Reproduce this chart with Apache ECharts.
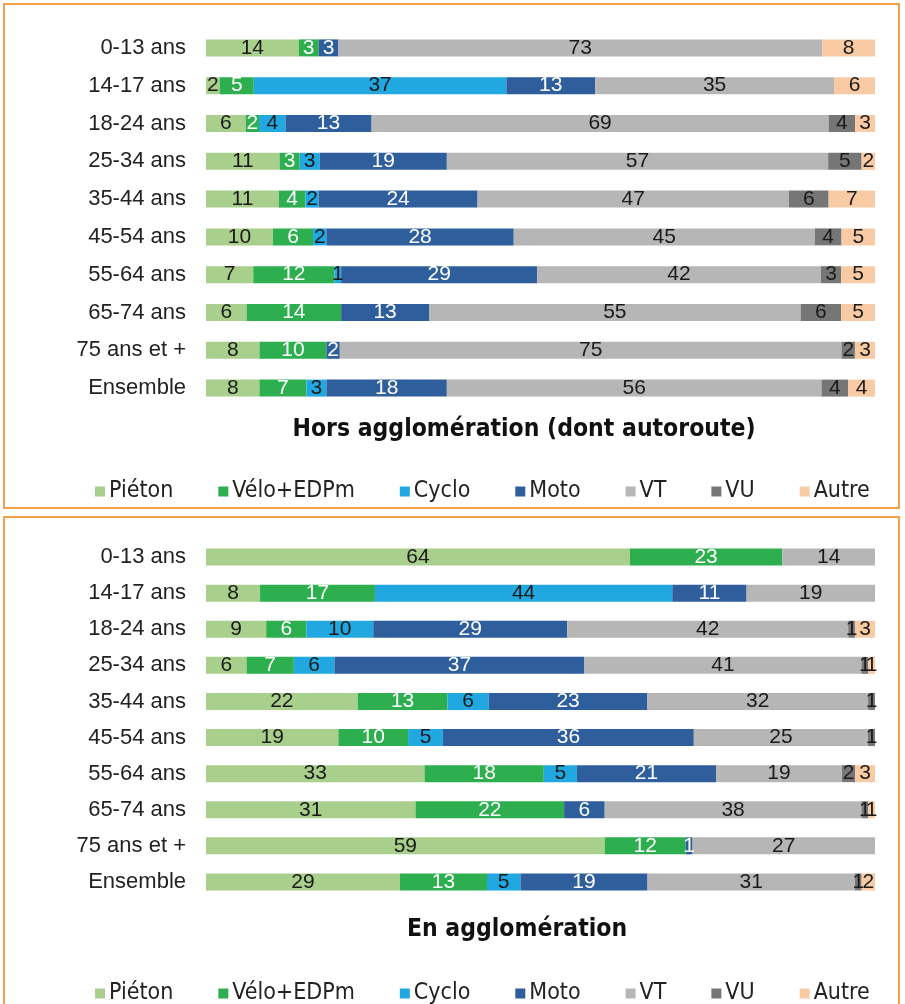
<!DOCTYPE html>
<html><head><meta charset="utf-8">
<script src="https://cdn.jsdelivr.net/npm/echarts@6/dist/echarts.min.js"></script>
<style>html,body{margin:0;padding:0;background:#fff}#c{width:905px;height:1004px}</style>
</head><body><div id="c"></div>
<script>
const categories = ['0-13 ans','14-17 ans','18-24 ans','25-34 ans','35-44 ans','45-54 ans','55-64 ans','65-74 ans','75 ans et +','Ensemble'];
const seriesNames = ['Piéton','Vélo+EDPm','Cyclo','Moto','VT','VU','Autre'];
const panelTitles = ['Hors agglomération (dont autoroute)','En agglomération'];

// Hors agglomération
const horsPieton = [14,2,6,11,11,10,7,6,8,8];
const horsVelo   = [3,5,2,3,4,6,12,14,10,7];
const horsCyclo  = [0,37,4,3,2,2,1,0,0,3];
const horsMoto   = [3,13,13,19,24,28,29,13,2,18];
const horsVT     = [73,35,69,57,47,45,42,55,75,56];
const horsVU     = [0,0,4,5,6,4,3,6,2,4];
const horsAutre  = [8,6,3,2,7,5,5,5,3,4];

// En agglomération
const enPieton = [64,8,9,6,22,19,33,31,59,29];
const enVelo   = [23,17,6,7,13,10,18,22,12,13];
const enCyclo  = [0,44,10,6,6,5,5,0,0,5];
const enMoto   = [0,11,29,37,23,36,21,6,1,19];
const enVT     = [14,19,42,41,32,25,19,38,27,31];
const enVU     = [0,0,1,1,1,1,2,1,0,1];
const enAutre  = [0,0,3,1,0,0,3,1,0,2];

const colors = ['#A9CF8C','#2DAF4F','#22A8E0','#2E5E9C','#B6B6B6','#767676','#F9CBA4'];
const labelColors = ['#1a1a1a','#ffffff','#1a1a1a','#ffffff','#1a1a1a','#1a1a1a','#1a1a1a'];
const FONT = 'Liberation Sans, Arial, sans-serif';
const NARROW = '"Liberation Sans Narrow", "Arial Narrow", "DejaVu Sans Condensed", sans-serif';

const panels = [
  [horsPieton,horsVelo,horsCyclo,horsMoto,horsVT,horsVU,horsAutre],
  [enPieton,enVelo,enCyclo,enMoto,enVT,enVU,enAutre]
];

const series = [];
panels.forEach((arrs, p) => {
  const sums = categories.map((_, i) => arrs.reduce((s, a) => s + a[i], 0));
  arrs.forEach((arr, k) => {
    series.push({
      name: seriesNames[k], type: 'bar', stack: 'p' + p,
      xAxisIndex: p, yAxisIndex: p, barWidth: 17,
      itemStyle: { color: colors[k] },
      label: {
        show: true, position: 'inside', color: labelColors[k],
        fontFamily: FONT, fontSize: 21,
        formatter: prm => arr[prm.dataIndex] > 0 ? String(arr[prm.dataIndex]) : ''
      },
      data: arr.map((v, i) => v / sums[i] * 100)
    });
  });
});

const yAxisCommon = {
  type: 'category', data: categories, inverse: true,
  axisLine: { show: false }, axisTick: { show: false },
  axisLabel: { fontFamily: FONT, fontSize: 22, color: '#222', margin: 20 }
};
const xAxisCommon = { type: 'value', min: 0, max: 100, show: false };

const legendCommon = {
  data: seriesNames, left: 90, itemWidth: 10, itemHeight: 10, itemGap: 45,
  icon: 'rect', selectedMode: false,
  textStyle: { fontFamily: NARROW, fontSize: 23, color: '#222', padding: [0,0,0,-1] }
};

const chart = echarts.init(document.getElementById('c'));
chart.setOption({
  animation: false,
  title: [
    { text: panelTitles[0], left: 519, top: 412, textAlign: 'center',
      textStyle: { fontFamily: NARROW, fontSize: 24.5, fontWeight: 'bold', color: '#111' } },
    { text: panelTitles[1], left: 512, top: 912, textAlign: 'center',
      textStyle: { fontFamily: NARROW, fontSize: 24.5, fontWeight: 'bold', color: '#111' } }
  ],
  legend: [
    Object.assign({ top: 475 }, legendCommon),
    Object.assign({ top: 977 }, legendCommon)
  ],
  grid: [
    { left: 206, right: 30, top: 29, height: 378 },
    { left: 206, right: 30, top: 539, height: 361 }
  ],
  xAxis: [Object.assign({ gridIndex: 0 }, xAxisCommon), Object.assign({ gridIndex: 1 }, xAxisCommon)],
  yAxis: [Object.assign({ gridIndex: 0 }, yAxisCommon), Object.assign({ gridIndex: 1 }, yAxisCommon)],
  graphic: [
    { type: 'rect', shape: { x: 4, y: 4, width: 895, height: 504 }, style: { fill: 'none', stroke: '#F5A04A', lineWidth: 2 } },
    { type: 'rect', shape: { x: 4, y: 517, width: 895, height: 500 }, style: { fill: 'none', stroke: '#F5A04A', lineWidth: 2 } }
  ],
  series: series
});
</script></body></html>
